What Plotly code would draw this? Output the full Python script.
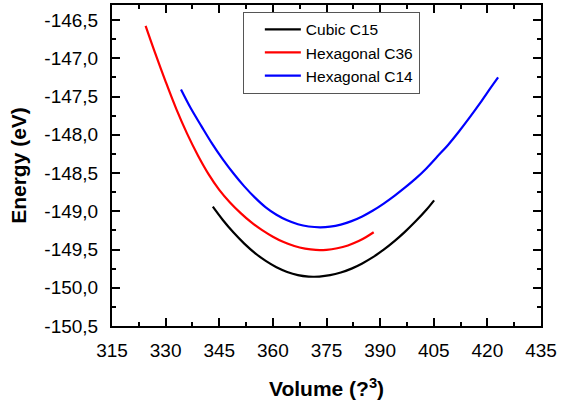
import plotly.graph_objects as go

# ---- data ----
c15_volume = [343.2, 346, 349, 352, 355, 358, 361, 364, 367, 370, 371.4, 373, 376, 379, 382, 385, 388, 391, 394, 397, 400, 403, 405.1]
c15_energy = [-148.940, -149.114, -149.279, -149.423, -149.547, -149.649, -149.732, -149.793, -149.834, -149.854, -149.856,
              -149.854, -149.836, -149.801, -149.750, -149.682, -149.600, -149.503, -149.391, -149.266, -149.128, -148.977, -148.857]

c36_volume = [324.4, 327, 330, 333, 336, 339, 342, 345, 348, 351, 354, 357, 360, 363, 366, 369, 372, 375, 378, 381, 384, 386, 388.2]
c36_energy = [-146.577, -146.924, -147.305, -147.665, -147.985, -148.267, -148.514, -148.720, -148.885, -149.024, -149.146,
              -149.247, -149.333, -149.403, -149.455, -149.489, -149.506, -149.504, -149.484, -149.447, -149.390, -149.340, -149.275]

c14_volume = [334.3, 337, 340, 343, 346, 349, 352, 355, 358, 361, 364, 367, 370, 373.2, 376, 379, 382, 385, 388, 391, 394,
              397, 400, 403, 406, 409, 412, 415, 418, 421, 423]
c14_energy = [-147.409, -147.651, -147.887, -148.116, -148.322, -148.507, -148.675, -148.822, -148.949, -149.046, -149.119,
              -149.170, -149.199, -149.210, -149.202, -149.175, -149.129, -149.068, -148.991, -148.900, -148.799,
              -148.689, -148.571, -148.437, -148.285, -148.133, -147.961, -147.777, -147.584, -147.382, -147.251]

series_names = ["Cubic C15", "Hexagonal C36", "Hexagonal C14"]
series_colors = ["#000000", "#ff0000", "#0000ff"]

x_tick_vals = [315, 330, 345, 360, 375, 390, 405, 420, 435]
x_tick_labels = ["315", "330", "345", "360", "375", "390", "405", "420", "435"]
y_tick_vals = [-150.5, -150.0, -149.5, -149.0, -148.5, -148.0, -147.5, -147.0, -146.5]
y_tick_labels = ["-150,5", "-150,0", "-149,5", "-149,0", "-148,5", "-148,0", "-147,5", "-147,0", "-146,5"]

fig = go.Figure()
for name, color, xs, ys in zip(series_names, series_colors,
                               [c15_volume, c36_volume, c14_volume],
                               [c15_energy, c36_energy, c14_energy]):
    fig.add_trace(go.Scatter(x=xs, y=ys, mode="lines", name=name,
                             line=dict(color=color, width=2.2, shape="spline", smoothing=1.0)))

font_family = "Liberation Sans, Arial, sans-serif"

fig.update_layout(
    width=570, height=401,
    margin=dict(l=111.5, r=28.5, t=5, b=75, autoexpand=False),
    paper_bgcolor="white", plot_bgcolor="white",
    font=dict(family=font_family, color="black"),
    showlegend=True,
    legend=dict(x=0.305, y=0.979, xanchor="left", yanchor="top",
                bordercolor="#555555", borderwidth=1, bgcolor="white",
                font=dict(size=15.5, family=font_family, color="black"),
                indentation=16, itemwidth=36, tracegroupgap=0),
)

axis_common = dict(
    showgrid=False, zeroline=False,
    showline=True, linecolor="black", linewidth=2, mirror="ticks",
    ticks="inside", ticklen=8, tickwidth=2, tickcolor="black",
    tickfont=dict(size=19, family=font_family, color="black"),
)

fig.update_xaxes(
    range=[315, 435], tickmode="array", tickvals=x_tick_vals, ticktext=x_tick_labels,
    minor=dict(ticks="inside", ticklen=4, tickwidth=2, tickcolor="black", dtick=7.5, tick0=315),
    title=dict(text="<b>Volume (?<sup>3</sup>)</b>", font=dict(size=21, family=font_family), standoff=22),
    ticklabelstandoff=6,
    **axis_common,
)
fig.update_yaxes(
    range=[-150.5, -146.304], tickmode="array", tickvals=y_tick_vals, ticktext=y_tick_labels,
    minor=dict(ticks="inside", ticklen=4, tickwidth=2, tickcolor="black", dtick=0.25, tick0=-150.5),
    title=dict(text="<b>Energy (eV)</b>", font=dict(size=21, family=font_family), standoff=12),
    ticklabelstandoff=8,
    **axis_common,
)

fig.write_html("out.html", config={"displayModeBar": False},
               post_script="document.body.style.margin='0';")
